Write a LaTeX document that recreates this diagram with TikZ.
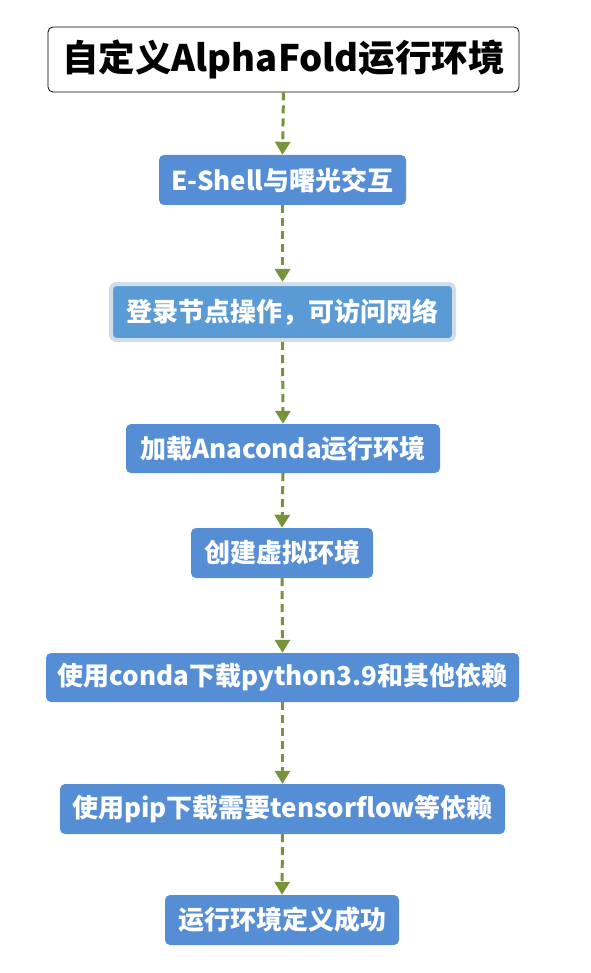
\documentclass[tikz,border=0pt]{standalone}
\usepackage{fontspec}
\newfontfamily\cjk{Noto Sans CJK SC}
\usepackage{xcolor}
\usetikzlibrary{arrows.meta}
\definecolor{boxblue}{HTML}{558ED5}
\definecolor{lightblue}{HTML}{5B9BD5}
\definecolor{glowblue}{HTML}{CFDEEA}
\definecolor{flowgreen}{HTML}{77933C}

\tikzset{
  titlebox/.style={draw=black, line width=0.8pt, rounded corners=5pt, fill=white,
    minimum width=471pt, minimum height=65pt, inner sep=0pt,
    font=\cjk\bfseries\fontsize{36.5}{42}\selectfont},
  stepbox/.style={fill=boxblue, rounded corners=5pt, text=white, inner sep=0pt,
    minimum height=50pt, font=\cjk\bfseries\fontsize{26}{30}\selectfont},
  flow/.style={draw=flowgreen, line width=3pt, dash pattern=on 8pt off 5pt,
    -{Triangle[length=13pt,width=15pt]}, shorten >=0pt}
}

\begin{document}
\begin{tikzpicture}[x=1pt, y=-1pt]
\useasboundingbox (0,0) rectangle (590,973);

% Title box
\node[titlebox] (title) at (283.5,59.5) {自定义AlphaFold运行环境};

% Steps
\node[stepbox, minimum width=247pt] (shell) at (282.5,180) {E-Shell与曙光交互};
\node[stepbox, fill=lightblue, draw=glowblue, line width=4pt, minimum width=343pt, minimum height=56pt]
  (login) at (282.5,312) {登录节点操作，可访问网络};
\node[stepbox, minimum width=314pt, minimum height=49pt] (conda) at (283,448.5) {加载Anaconda运行环境};
\node[stepbox, minimum width=182pt] (venv) at (282,553) {创建虚拟环境};
\node[stepbox, minimum width=473pt, minimum height=49pt] (python) at (282.5,677.5) {使用conda下载python3.9和其他依赖};
\node[stepbox, minimum width=445pt] (pip) at (282.5,809) {使用pip下载需要tensorflow等依赖};
\node[stepbox, minimum width=234pt] (done) at (282,920) {运行环境定义成功};

% Dashed arrows
\draw[flow] (title.south) -- (shell.north);
\draw[flow] (shell.south) -- (login.north);
\draw[flow] (login.south) -- (conda.north);
\draw[flow] (conda.south) -- (venv.north);
\draw[flow] (venv.south) -- (python.north);
\draw[flow] (python.south) -- (pip.north);
\draw[flow] (pip.south) -- (done.north);
\end{tikzpicture}
\end{document}
